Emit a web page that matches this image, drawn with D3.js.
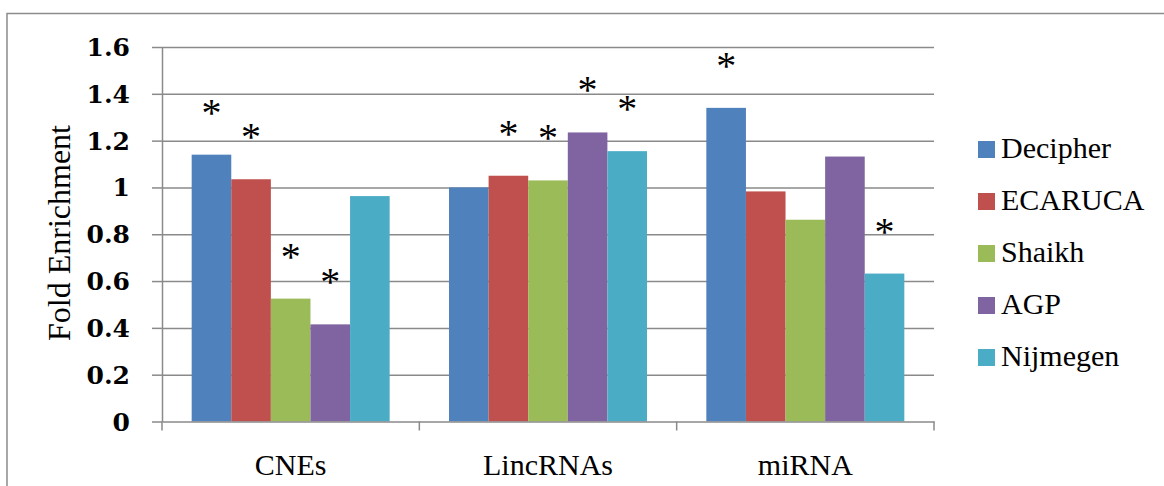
<!DOCTYPE html>
<html>
<head>
<meta charset="utf-8">
<script src="https://cdn.jsdelivr.net/npm/d3@7"></script>
<style>
  body { margin: 0; background: #fff; }
  svg { display: block; }
</style>
</head>
<body>
<div id="chart"></div>
<script>
// Chart data
var categories = ["CNEs", "LincRNAs", "miRNA"];
var seriesNames = ["Decipher", "ECARUCA", "Shaikh", "AGP", "Nijmegen"];
var seriesColors = ["#4F81BD", "#C0504D", "#9BBB59", "#8064A2", "#4BACC6"];

// values per series, one per category
var decipher = [1.14, 1.00, 1.34];
var ecaruca = [1.035, 1.05, 0.983];
var shaikh = [0.525, 1.03, 0.862];
var agp = [0.415, 1.235, 1.132];
var nijmegen = [0.963, 1.155, 0.632];

// significance stars (1 = marked with *)
var starDecipher = [1, 0, 1];
var starEcaruca = [1, 1, 0];
var starShaikh = [1, 1, 0];
var starAgp = [1, 1, 0];
var starNijmegen = [0, 1, 1];

var yTicks = [0, 0.2, 0.4, 0.6, 0.8, 1, 1.2, 1.4, 1.6];
var yTickLabels = ["0", "0.2", "0.4", "0.6", "0.8", "1", "1.2", "1.4", "1.6"];

var values = [decipher, ecaruca, shaikh, agp, nijmegen];
var stars = [starDecipher, starEcaruca, starShaikh, starAgp, starNijmegen];

var width = 1164;
var height = 486;

var plotLeft = 162;
var plotRight = 934;
var plotTop = 47;
var plotBottom = 421.5;

var gridColor = "#8a8a8a";
var serif = "'Liberation Serif', 'Times New Roman', serif";
var tickFont = "'DejaVu Serif', serif";

var svg = d3.select("#chart")
  .append("svg")
  .attr("width", width)
  .attr("height", height);

// outer frame (runs off the right and bottom edge)
svg.append("rect")
  .attr("x", 7)
  .attr("y", 13.5)
  .attr("width", 1300)
  .attr("height", 600)
  .attr("fill", "none")
  .attr("stroke", "#8c8c8c")
  .attr("stroke-width", 1.5);

// Scales
var xScale = d3.scaleBand()
  .domain(categories)
  .range([plotLeft, plotRight]);

var groupPad = xScale.bandwidth() * 0.1153;
var xInner = d3.scaleBand()
  .domain(seriesNames)
  .range([groupPad, xScale.bandwidth() - groupPad]);

var yScale = d3.scaleLinear()
  .domain([0, 1.6])
  .range([plotBottom, plotTop]);

// gridlines
var grid = d3.axisLeft(yScale)
  .tickValues(yTicks.slice(1))
  .tickSize(-(plotRight - plotLeft))
  .tickFormat("");
svg.append("g")
  .attr("class", "grid")
  .attr("transform", "translate(" + plotLeft + ",0)")
  .call(grid)
  .call(function(g) {
    g.select(".domain").remove();
    g.selectAll("line").attr("stroke", gridColor).attr("stroke-width", 1.5);
  });

// Bars
var groups = svg.selectAll("g.series")
  .data(seriesNames)
  .enter()
  .append("g")
  .attr("class", "series")
  .attr("fill", function(d, i) { return seriesColors[i]; });

function rows(d, i) {
  return categories.map(function(c, j) {
    return { cat: c, name: d, value: values[i][j], star: stars[i][j] };
  });
}

groups.selectAll("rect")
  .data(rows)
  .enter()
  .append("rect")
  .attr("x", function(d) { return xScale(d.cat) + xInner(d.name); })
  .attr("y", function(d) { return yScale(d.value); })
  .attr("width", xInner.bandwidth())
  .attr("height", function(d) { return yScale(0) - yScale(d.value); });

// stars above the significant bars
groups.selectAll("text.star")
  .data(function(d, i) {
    return rows(d, i).filter(function(r) { return r.star; });
  })
  .enter()
  .append("text")
  .attr("class", "star")
  .attr("x", function(d) { return xScale(d.cat) + xInner(d.name) + xInner.bandwidth() / 2; })
  .attr("y", function(d) { return yScale(d.value) - 29; })
  .attr("text-anchor", "middle")
  .attr("fill", "#000")
  .attr("font-family", serif)
  .attr("font-size", "40px")
  .text("*");

// Y axis
var yAxis = d3.axisLeft(yScale)
  .tickValues(yTicks)
  .tickSize(10)
  .tickSizeOuter(0)
  .tickPadding(22)
  .tickFormat(function(d, i) { return yTickLabels[i]; });

svg.append("g")
  .attr("class", "yAxis")
  .attr("transform", "translate(" + plotLeft + ",0)")
  .call(yAxis)
  .attr("font-family", tickFont)
  .attr("font-size", 25)
  .attr("font-weight", "bold")
  .call(function(g) {
    g.select(".domain").attr("stroke", gridColor).attr("stroke-width", 1.5);
    g.selectAll(".tick line").attr("stroke", gridColor).attr("stroke-width", 1.5);
    g.selectAll(".tick text").attr("fill", "#000").attr("dy", "0.34em");
  });

// X axis
var xAxis = d3.axisBottom(xScale)
  .tickSize(0)
  .tickSizeOuter(0)
  .tickPadding(32);

svg.append("g")
  .attr("class", "xAxis")
  .attr("transform", "translate(0," + plotBottom + ")")
  .call(xAxis)
  .attr("font-family", serif)
  .attr("font-size", 30)
  .call(function(g) {
    g.select(".domain").attr("stroke", gridColor).attr("stroke-width", 1.5);
    g.selectAll(".tick text").attr("fill", "#000").attr("dy", "0.71em");
  });

// category boundary ticks
var bounds = categories.map(function(c) { return xScale(c); }).concat([plotRight]);
svg.append("g")
  .selectAll("line")
  .data(bounds)
  .enter()
  .append("line")
  .attr("x1", function(d) { return d; })
  .attr("x2", function(d) { return d; })
  .attr("y1", plotBottom)
  .attr("y2", plotBottom + 9)
  .attr("stroke", gridColor)
  .attr("stroke-width", 1.5);

// Y title
svg.append("text")
  .attr("transform", "translate(70,233)rotate(-90)")
  .attr("text-anchor", "middle")
  .attr("font-family", serif)
  .attr("font-size", 32)
  .text("Fold Enrichment");

// Legend
var legend = svg.append("g")
  .attr("transform", "translate(978,141)");

var items = legend.selectAll("g")
  .data(seriesNames)
  .enter()
  .append("g")
  .attr("transform", function(d, i) { return "translate(0," + (i * 52) + ")"; });

items.append("rect")
  .attr("width", 17)
  .attr("height", 17)
  .attr("fill", function(d, i) { return seriesColors[i]; });

items.append("text")
  .attr("x", 23)
  .attr("y", 17)
  .attr("font-family", serif)
  .attr("font-size", 30)
  .text(function(d) { return d; });
</script>
</body>
</html>
